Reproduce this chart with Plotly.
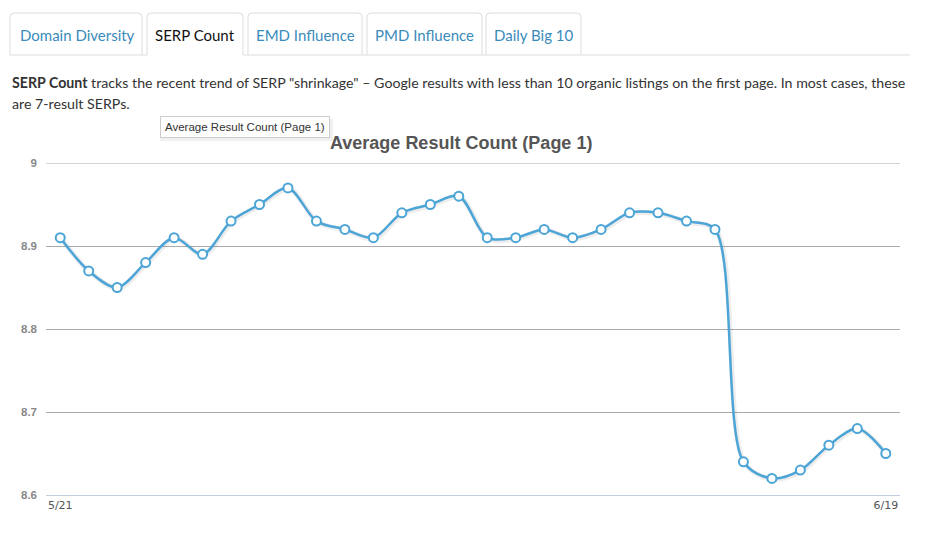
import plotly.graph_objects as go

# ---- data ----
dates = ["5/21", "5/22", "5/23", "5/24", "5/25", "5/26", "5/27", "5/28", "5/29", "5/30",
         "5/31", "6/1", "6/2", "6/3", "6/4", "6/5", "6/6", "6/7", "6/8", "6/9",
         "6/10", "6/11", "6/12", "6/13", "6/14", "6/15", "6/16", "6/17", "6/18", "6/19"]
avg_count = [8.91, 8.87, 8.85, 8.88, 8.91, 8.89, 8.93, 8.95, 8.97, 8.93,
             8.92, 8.91, 8.94, 8.95, 8.96, 8.91, 8.91, 8.92, 8.91, 8.92,
             8.94, 8.94, 8.93, 8.92, 8.64, 8.62, 8.63, 8.66, 8.68, 8.65]
y_ticks = [8.6, 8.7, 8.8, 8.9, 9.0]
y_tick_text = ["8.6", "8.7", "8.8", "8.9", "9"]
x_tick_labels = ["5/21", "6/19"]
tabs = ["Domain Diversity", "SERP Count", "EMD Influence", "PMD Influence", "Daily Big 10"]
chart_title = "Average Result Count (Page 1)"

# ---- layout geometry (pixels) ----
W_FIG, H_FIG = 945, 534
L, R, T, B = 46, 900, 163, 495
PW, PH = R - L, B - T


def px(x):
    return (x - L) / PW


def py(y):
    return (B - y) / PH


idx = list(range(len(dates)))

fig = go.Figure()
# subtle shadow like the original
fig.add_trace(go.Scatter(
    x=[i + 0.04 for i in idx], y=[v - 0.0012 for v in avg_count], mode="lines",
    line=dict(color="rgba(0,0,0,0.07)", width=5, shape="spline", smoothing=0.9),
    hoverinfo="skip", showlegend=False))
fig.add_trace(go.Scatter(
    x=idx, y=avg_count, mode="lines+markers",
    line=dict(color="#4ca5d6", width=2.5, shape="spline", smoothing=0.9),
    marker=dict(size=9, color="white", line=dict(color="#4ca5d6", width=2)),
    hoverinfo="skip", showlegend=False))

shapes = []
annotations = []

# top gridline (plotly drops the one at the range edge)
shapes.append(dict(type="line", xref="paper", yref="y", x0=0, x1=1,
                   y0=y_ticks[-1], y1=y_ticks[-1], layer="below",
                   line=dict(color="#aaaaaa", width=1)))

# tabs
tab_x = [(10, 142), (147, 243), (248, 362), (367, 482), (486, 581)]
tab_cx = [77, 195, 305, 424, 533]
top, bot, r = 13, 55, 4
for i, (x0, x1) in enumerate(tab_x):
    path = (f"M {px(x0)},{py(bot)} L {px(x0)},{py(top + r)} "
            f"Q {px(x0)},{py(top)} {px(x0 + r)},{py(top)} "
            f"L {px(x1 - r)},{py(top)} Q {px(x1)},{py(top)} {px(x1)},{py(top + r)} "
            f"L {px(x1)},{py(bot)}")
    shapes.append(dict(type="path", xref="paper", yref="paper", path=path,
                       line=dict(color="#dddddd", width=1), fillcolor="white"))
    annotations.append(dict(
        text=tabs[i], x=px(tab_cx[i]), y=py(35), xref="paper", yref="paper",
        showarrow=False, xanchor="center", yanchor="middle",
        font=dict(family="Lato", size=15, color="#111111" if i == 1 else "#3a8bbb")))
# baseline of tabs (broken under active tab)
for (a, b) in [(10, 147), (243, 910)]:
    shapes.append(dict(type="line", xref="paper", yref="paper",
                       x0=px(a), x1=px(b), y0=py(bot), y1=py(bot),
                       line=dict(color="#dddddd", width=1)))

# paragraph
annotations.append(dict(
    text="<b>SERP Count</b> tracks the recent trend of SERP \"shrinkage\" \u2013 Google results with less than 10 organic listings on the first page. In most cases, these",
    x=px(10), y=py(82), xref="paper", yref="paper", showarrow=False,
    xanchor="left", yanchor="middle", font=dict(family="Lato", size=14.2, color="#333333")))
annotations.append(dict(
    text="are 7-result SERPs.",
    x=px(10), y=py(103), xref="paper", yref="paper", showarrow=False,
    xanchor="left", yanchor="middle", font=dict(family="Lato", size=14.2, color="#333333")))

# chart title
annotations.append(dict(
    text="<b>" + chart_title + "</b>", x=px(461), y=py(143), xref="paper", yref="paper",
    showarrow=False, xanchor="center", yanchor="middle",
    font=dict(family="Liberation Sans", size=18, color="#555555")))

# tooltip-like box (shadow + box)
shapes.append(dict(type="rect", xref="paper", yref="paper",
                   x0=px(160), x1=px(333), y0=py(119), y1=py(141),
                   line=dict(width=0), fillcolor="rgba(0,0,0,0.06)"))
annotations.append(dict(
    text=chart_title, x=px(245), y=py(127), xref="paper", yref="paper",
    showarrow=False, xanchor="center", yanchor="middle",
    bgcolor="white", bordercolor="#cccccc", borderwidth=1, borderpad=4,
    font=dict(family="Liberation Sans", size=11.5, color="#333333")))

fig.update_layout(
    width=W_FIG, height=H_FIG,
    margin=dict(l=L, r=W_FIG - R, t=T, b=H_FIG - B, pad=0),
    paper_bgcolor="white", plot_bgcolor="white",
    shapes=shapes, annotations=annotations,
    hovermode=False,
    xaxis=dict(range=[-0.5, len(dates) - 0.5], tickmode="array",
               tickvals=[0, len(dates) - 1], ticktext=x_tick_labels,
               showgrid=False, zeroline=False, showline=True, linecolor="#C0D0E0",
               linewidth=1, ticks="", ticklen=0,
               tickfont=dict(family="DejaVu Sans", size=11, color="#555555")),
    yaxis=dict(range=[8.6, 9.0], tickmode="array", tickvals=y_ticks, ticktext=y_tick_text,
               showgrid=True, gridcolor="#aaaaaa", gridwidth=1, zeroline=False,
               showline=False, ticks="", ticklabelstandoff=8,
               tickfont=dict(family="Liberation Sans", size=11.5, color="#888888", weight="bold")),
)

fig.write_html("out.html")
